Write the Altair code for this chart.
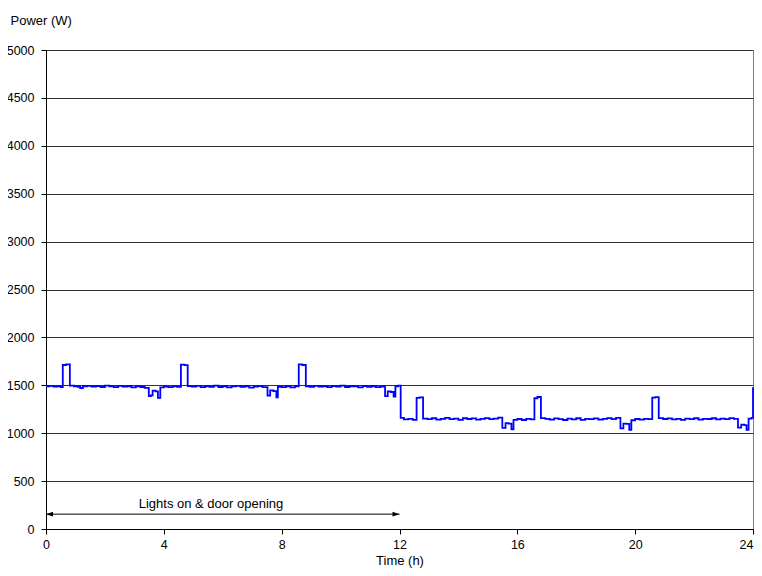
import altair as alt
import pandas as pd

# Time (h) and power (W), drawn as a step line
hours = [
    0.00, 0.12, 0.25, 0.38, 0.50,
    0.57, 0.68,
    0.81, 0.95, 1.08, 1.16, 1.25, 1.40, 1.55, 1.70, 1.85, 2.00, 2.15, 2.30, 2.45, 2.60, 2.75, 2.90, 3.05, 3.20, 3.35,
    3.49, 3.56, 3.62, 3.72, 3.80, 3.88, 4.00, 4.15, 4.30, 4.45,
    4.58, 4.70,
    4.81, 4.95, 5.10, 5.25, 5.40, 5.55, 5.70, 5.85, 6.00, 6.15, 6.30, 6.45, 6.60, 6.75, 6.90, 7.05, 7.20, 7.35,
    7.52, 7.61, 7.72, 7.82, 7.87, 8.00, 8.15, 8.30, 8.45,
    8.58, 8.70,
    8.82, 8.95, 9.10, 9.25, 9.40, 9.55, 9.70, 9.85, 10.00, 10.15, 10.30, 10.45, 10.60, 10.75, 10.90, 11.05, 11.20, 11.35,
    11.51, 11.60, 11.70, 11.80, 11.86, 11.95,
    12.04, 12.15, 12.30, 12.45,
    12.58, 12.68,
    12.80, 12.95, 13.10, 13.25, 13.40, 13.55, 13.70, 13.85, 14.00, 14.15, 14.30, 14.45, 14.60, 14.75, 14.90, 15.05, 15.20, 15.35,
    15.49, 15.60, 15.70, 15.80, 15.87, 16.00, 16.15, 16.30, 16.45,
    16.58, 16.68,
    16.80, 16.95, 17.10, 17.25, 17.40, 17.55, 17.70, 17.85, 18.00, 18.15, 18.30, 18.45, 18.60, 18.75, 18.90, 19.05, 19.20, 19.35,
    19.50, 19.60, 19.70, 19.80, 19.87, 20.00, 20.15, 20.30, 20.45,
    20.58, 20.68,
    20.80, 20.95, 21.10, 21.25, 21.40, 21.55, 21.70, 21.85, 22.00, 22.15, 22.30, 22.45, 22.60, 22.75, 22.90, 23.05, 23.20, 23.35,
    23.49, 23.60, 23.70, 23.78, 23.85, 23.95,
    24.00,
]
watts = [
    1490, 1494, 1486, 1490, 1482,
    1712, 1718,
    1497, 1490, 1484, 1472, 1488, 1494, 1486, 1492, 1482, 1496, 1488, 1480, 1494, 1486, 1490, 1478, 1488, 1482, 1474,
    1388, 1395, 1445, 1436, 1368, 1478, 1486, 1480, 1488, 1484,
    1715, 1710,
    1492, 1486, 1494, 1480, 1490, 1484, 1496, 1482, 1490, 1478, 1488, 1494, 1484, 1490, 1476, 1486, 1492, 1480,
    1392, 1448, 1440, 1375, 1485, 1480, 1488, 1478, 1490,
    1719, 1712,
    1490, 1484, 1495, 1486, 1490, 1480, 1492, 1486, 1496, 1482, 1490, 1488, 1478, 1492, 1484, 1490, 1480, 1486,
    1388, 1437, 1430, 1381, 1490, 1496,
    1159, 1145, 1150, 1140,
    1368, 1374,
    1152, 1146, 1156, 1142, 1150, 1160, 1146, 1152, 1140, 1156, 1148, 1154, 1142, 1150, 1158, 1146, 1152, 1162,
    1055, 1105, 1100, 1040, 1140, 1148, 1138, 1150, 1144,
    1365, 1378,
    1158, 1150, 1142, 1154, 1146, 1138, 1152, 1144, 1156, 1140, 1150, 1146, 1154, 1142, 1150, 1158, 1146, 1160,
    1050, 1100, 1098, 1035, 1135, 1148, 1142, 1150, 1146,
    1372, 1376,
    1158, 1148, 1154, 1144, 1150, 1140, 1152, 1146, 1156, 1142, 1150, 1148, 1156, 1144, 1152, 1146, 1158, 1150,
    1058, 1090, 1085, 1034, 1152, 1160,
    1480,
]

x_ticks = [0, 4, 8, 12, 16, 20, 24]
y_ticks = [0, 500, 1000, 1500, 2000, 2500, 3000, 3500, 4000, 4500, 5000]

arrow_from = [0]
arrow_to = [12]
arrow_level = [155]
note_text = ["Lights on & door opening"]
note_x = [5.6]
note_y = [262]

FONT = "Liberation Sans"

df = pd.DataFrame({"h": hours, "w": watts})
arrow_df = pd.DataFrame({"x": arrow_from, "x2": arrow_to, "y": arrow_level})
left_df = pd.DataFrame({"x": arrow_from, "y": arrow_level})
right_df = pd.DataFrame({"x": arrow_to, "y": arrow_level})
note_df = pd.DataFrame({"x": note_x, "y": note_y, "t": note_text})

xs = alt.Scale(domain=[0, 24], nice=False, zero=False)
ys = alt.Scale(domain=[0, 5000], nice=False)

line = alt.Chart(df).mark_line(
    color="#0000FF", strokeWidth=1.8, interpolate="step-after"
).encode(
    x=alt.X("h:Q", scale=xs, axis=alt.Axis(
        values=x_ticks, title="Time (h)", grid=False, labelFlush=False,
        labelAlign=alt.condition("datum.value >= 24", alt.value("right"), alt.value("center")),
        labelPadding=4, titleY=31, titleBaseline="middle", format="d")),
    y=alt.Y("w:Q", scale=ys, axis=alt.Axis(
        values=y_ticks, title="Power (W)", grid=True, labelPadding=7,
        titleAngle=0, titleAlign="left", titleBaseline="middle",
        titleX=-36, titleY=-30, format="d")),
)

rule = alt.Chart(arrow_df).mark_rule(color="black", strokeWidth=1).encode(
    x=alt.X("x:Q", scale=xs), x2="x2:Q", y=alt.Y("y:Q", scale=ys)
)

left_head = alt.Chart(left_df).mark_point(
    shape="M0,0 L2,-0.7 L2,0.7 Z", filled=True, color="black", size=49, opacity=1
).encode(x=alt.X("x:Q", scale=xs), y=alt.Y("y:Q", scale=ys))

right_head = alt.Chart(right_df).mark_point(
    shape="M0,0 L-2,-0.7 L-2,0.7 Z", filled=True, color="black", size=49, opacity=1
).encode(x=alt.X("x:Q", scale=xs), y=alt.Y("y:Q", scale=ys))

note = alt.Chart(note_df).mark_text(
    font=FONT, fontSize=13, color="black", align="center", baseline="middle"
).encode(x=alt.X("x:Q", scale=xs), y=alt.Y("y:Q", scale=ys), text="t:N")

chart = alt.layer(line, rule, left_head, right_head, note).properties(
    width=707,
    height=479,
    autosize=alt.AutoSizeParams(type="none"),
    padding={"left": 38, "top": 42, "right": 1, "bottom": 39},
    background="white",
).configure_view(
    stroke="#808080", strokeWidth=1
).configure_axis(
    domainColor="black", domainWidth=1,
    tickColor="black", tickSize=5, tickWidth=1,
    labelFont=FONT, labelFontSize=12.5, labelColor="black",
    titleFont=FONT, titleFontSize=13, titleFontWeight="normal", titleColor="black",
    gridColor="#333333", gridWidth=1,
)

chart.save("out.html", embed_options={"renderer": "svg", "actions": False})
